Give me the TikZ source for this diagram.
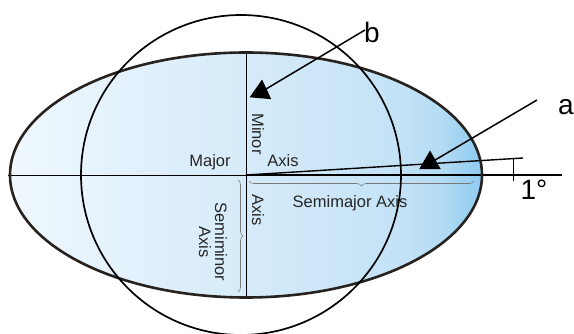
\documentclass[tikz,border=0pt]{standalone}
\usepackage{fontspec}
\setmainfont{Liberation Sans}
\usetikzlibrary{decorations.pathreplacing,shapes.geometric}
\definecolor{eledge}{RGB}{40,34,30}
\definecolor{thin}{RGB}{90,90,90}
\definecolor{bracec}{RGB}{120,120,120}
\definecolor{s0}{RGB}{240,248,254}
\definecolor{s1}{RGB}{224,240,251}
\definecolor{s2}{RGB}{214,235,249}
\definecolor{s3}{RGB}{204,230,248}
\definecolor{s4}{RGB}{195,226,246}
\definecolor{s5}{RGB}{180,220,244}
\definecolor{s6}{RGB}{140,202,240}
\tikzset{
  lbl/.style={inner sep=0pt, font=\fontsize{16.5}{17}\selectfont, text=black!85},
  big/.style={inner sep=0pt, font=\fontsize{28}{30}\selectfont},
  tri/.style={regular polygon, regular polygon sides=3, fill=black, inner sep=0pt, minimum size=25pt},
  pointer/.style={line width=1.5pt, black},
  bracedeco/.style={decorate, decoration={brace, amplitude=5pt}, bracec, line width=0.6pt}
}
\begin{document}
\begin{tikzpicture}[x=1pt,y=-1pt]
\useasboundingbox (0,0) rectangle (574,334);
% ellipse fill (piecewise horizontal gradient)
\begin{scope}
\clip (246,175) ellipse [x radius=236, y radius=122.5];
\shade[left color=s0, right color=s1] (9,50) rectangle (150.5,300);
\shade[left color=s1, right color=s2] (150,50) rectangle (246.5,300);
\shade[left color=s2, right color=s3] (246,50) rectangle (330.5,300);
\shade[left color=s3, right color=s4] (330,50) rectangle (400.5,300);
\shade[left color=s4, right color=s5] (400,50) rectangle (440.5,300);
\shade[left color=s5, right color=s6] (440,50) rectangle (483,300);
\end{scope}
% axes
\coordinate (C) at (246,175);
\coordinate (L) at (8,175);
\coordinate (R) at (562,175);
\coordinate (T) at (246,52.5);
\coordinate (B) at (246,297.5);
\coordinate (Tl) at (523,158);
\draw[thin, line width=0.7pt] (L) -- (C);
\draw[thin, line width=0.7pt] (T) -- (B);
\draw[black, line width=1.8pt] (C) -- (R);
\draw[black, line width=1.4pt] (C) -- (Tl);
% 1 degree tick
\coordinate (k1) at (513,158.5);
\coordinate (k2) at (513,181);
\draw[black, line width=1pt] (k1) -- (k2);
% braces
\coordinate (bm1) at (249,181);
\coordinate (bm2) at (474,181);
\draw[bracedeco, decoration={mirror}] (bm1) -- (bm2);
\coordinate (bn1) at (238,180);
\coordinate (bn2) at (238,292);
\draw[bracedeco] (bn1) -- (bn2);
% ellipse outline
\draw[eledge, line width=2.6pt] (246,175) ellipse [x radius=236, y radius=122.5];
% circle
\draw[black, line width=1.7pt] (241,175) circle [radius=160];
% labels
\node[lbl, anchor=base] (major) at (210,167) {Major};
\node[lbl, anchor=base] (axisH) at (283,167) {Axis};
\node[lbl, rotate=-90] (minor) at (258,134) {Minor};
\node[lbl, rotate=-90] (axisV) at (258,210) {Axis};
\node[lbl, anchor=base] (semimaj) at (350,207.5) {Semimajor Axis};
\node[lbl, rotate=-90, align=center, font=\fontsize{16.5}{16}\selectfont] (semimin) at (213,242) {Semiminor\\Axis};
\node[big, anchor=base] (la) at (566,115) {a};
\node[big, anchor=base] (lb) at (372,43) {b};
\node[big, anchor=base] (ldeg) at (534,200) {1°};
% arrows
\node[tri] (ta) at (430,163) {};
\node[tri, rotate=-5] (tb) at (261,92) {};
\coordinate (sa) at (537,100);
\coordinate (sb) at (365,30);
\draw[pointer] (sa) -- (ta.center);
\draw[pointer] (sb) -- (tb.center);
\end{tikzpicture}
\end{document}
